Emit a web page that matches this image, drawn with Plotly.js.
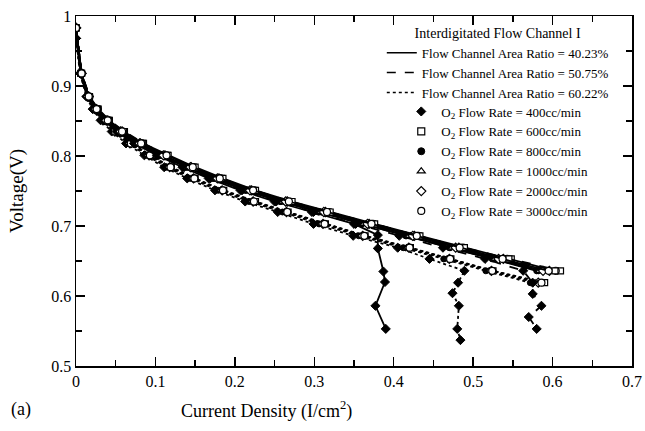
<!DOCTYPE html>
<html><head><meta charset="utf-8">
<script src="https://cdn.plot.ly/plotly-3.0.1.min.js"></script>
<style>html,body{margin:0;padding:0;background:#fff}#chart{width:645px;height:431px}</style>
</head><body><div id="chart"></div>
<script>
// ---- data ----
const ratioLabels = ['Flow Channel Area Ratio = 40.23%', 'Flow Channel Area Ratio = 50.75%', 'Flow Channel Area Ratio = 60.22%'];
const flowLabels = ['O<sub>2</sub> Flow Rate = 400cc/min', 'O<sub>2</sub> Flow Rate = 600cc/min', 'O<sub>2</sub> Flow Rate = 800cc/min',
                    'O<sub>2</sub> Flow Rate = 1000cc/min', 'O<sub>2</sub> Flow Rate = 2000cc/min', 'O<sub>2</sub> Flow Rate = 3000cc/min'];

const voltage = [0.983, 0.918, 0.885, 0.867, 0.851, 0.835, 0.818, 0.801, 0.784, 0.768, 0.751, 0.735, 0.720, 0.703, 0.686, 0.669, 0.653, 0.636];
const voltageLow = [0.983, 0.918, 0.885, 0.867, 0.851, 0.835, 0.818, 0.801, 0.784, 0.768, 0.751, 0.735, 0.720, 0.703, 0.686, 0.669, 0.653, 0.636, 0.619];

// Area ratio 40.23% (solid)
const a40_400_x = [0, 0.006, 0.014, 0.023, 0.035, 0.051, 0.073, 0.102, 0.134, 0.167, 0.207, 0.250, 0.297, 0.350, 0.380, 0.380, 0.387, 0.389, 0.377, 0.390];
const a40_400_y = [0.968, 0.918, 0.885, 0.867, 0.851, 0.835, 0.818, 0.801, 0.784, 0.768, 0.751, 0.735, 0.720, 0.703, 0.687, 0.668, 0.635, 0.620, 0.586, 0.553];
const a40_600_x = [0, 0.007, 0.016, 0.027, 0.041, 0.060, 0.084, 0.116, 0.150, 0.185, 0.226, 0.272, 0.320, 0.376, 0.433, 0.489, 0.545, 0.603];
const a40_800_x = [0, 0.006, 0.014, 0.024, 0.036, 0.053, 0.076, 0.106, 0.139, 0.172, 0.213, 0.257, 0.305, 0.359, 0.415, 0.470, 0.524, 0.580];
const a40_1000_x = [0, 0.007, 0.015, 0.024, 0.037, 0.054, 0.078, 0.108, 0.141, 0.175, 0.216, 0.260, 0.308, 0.362, 0.419, 0.473, 0.527, 0.583];
const a40_2000_x = [0, 0.007, 0.015, 0.025, 0.038, 0.056, 0.080, 0.110, 0.144, 0.178, 0.219, 0.264, 0.312, 0.367, 0.424, 0.478, 0.532, 0.588];
const a40_3000_x = [0, 0.007, 0.016, 0.026, 0.040, 0.058, 0.082, 0.114, 0.147, 0.181, 0.223, 0.268, 0.316, 0.372, 0.429, 0.483, 0.537, 0.595];

// Area ratio 50.75% (dashed)
const a50_400_x = [0, 0.006, 0.015, 0.024, 0.036, 0.053, 0.075, 0.104, 0.136, 0.169, 0.209, 0.252, 0.299, 0.352, 0.407, 0.462, 0.515, 0.563, 0.575, 0.575, 0.586, 0.570, 0.580];
const a50_400_y = [0.968, 0.918, 0.885, 0.867, 0.851, 0.835, 0.818, 0.801, 0.784, 0.768, 0.751, 0.735, 0.720, 0.703, 0.686, 0.669, 0.653, 0.636, 0.619, 0.603, 0.586, 0.570, 0.553];
const a50_600_x = [0, 0.007, 0.017, 0.028, 0.042, 0.061, 0.085, 0.115, 0.148, 0.183, 0.224, 0.270, 0.318, 0.373, 0.431, 0.488, 0.548, 0.610];
const a50_800_x = [0, 0.006, 0.015, 0.025, 0.038, 0.055, 0.078, 0.107, 0.140, 0.174, 0.214, 0.258, 0.306, 0.360, 0.416, 0.471, 0.526, 0.582];
const a50_1000_x = [0, 0.007, 0.016, 0.026, 0.039, 0.057, 0.080, 0.110, 0.143, 0.177, 0.218, 0.262, 0.310, 0.365, 0.421, 0.477, 0.532, 0.588];
const a50_2000_x = [0, 0.007, 0.016, 0.026, 0.040, 0.058, 0.081, 0.112, 0.145, 0.180, 0.221, 0.266, 0.314, 0.369, 0.426, 0.482, 0.538, 0.596];
const a50_3000_x = [0, 0.007, 0.017, 0.027, 0.041, 0.059, 0.083, 0.113, 0.147, 0.182, 0.224, 0.269, 0.318, 0.374, 0.431, 0.487, 0.543, 0.604];

// Area ratio 60.22% (dotted)
const a60_400_x = [0, 0.005, 0.013, 0.021, 0.031, 0.045, 0.063, 0.086, 0.111, 0.140, 0.175, 0.213, 0.254, 0.299, 0.349, 0.405, 0.445, 0.489, 0.481, 0.474, 0.482, 0.480, 0.484];
const a60_400_y = [0.968, 0.918, 0.885, 0.867, 0.851, 0.835, 0.818, 0.801, 0.784, 0.768, 0.751, 0.735, 0.720, 0.703, 0.686, 0.669, 0.653, 0.636, 0.619, 0.604, 0.586, 0.553, 0.537];
const a60_600_x = [0, 0.006, 0.016, 0.025, 0.036, 0.050, 0.070, 0.094, 0.120, 0.150, 0.186, 0.226, 0.267, 0.314, 0.364, 0.421, 0.472, 0.525, 0.590];
const a60_800_x = [0, 0.005, 0.014, 0.022, 0.033, 0.047, 0.066, 0.089, 0.114, 0.144, 0.179, 0.218, 0.260, 0.306, 0.356, 0.412, 0.463, 0.516, 0.572];
const a60_1000_x = [0, 0.006, 0.015, 0.023, 0.034, 0.048, 0.067, 0.091, 0.116, 0.146, 0.182, 0.221, 0.263, 0.309, 0.359, 0.416, 0.467, 0.520, 0.578];
const a60_2000_x = [0, 0.006, 0.015, 0.024, 0.034, 0.049, 0.068, 0.092, 0.118, 0.148, 0.184, 0.223, 0.265, 0.311, 0.361, 0.419, 0.470, 0.523, 0.582];
const a60_3000_x = [0, 0.006, 0.015, 0.024, 0.035, 0.049, 0.069, 0.093, 0.119, 0.149, 0.185, 0.224, 0.266, 0.313, 0.363, 0.420, 0.471, 0.524, 0.586];

// ---- styles ----
const dashes = ['solid', 'dash', 'dot'];
const markerStyles = [
  {symbol: 'diamond', color: '#000', line: {color: '#000', width: 1}, size: 7},
  {symbol: 'square', color: '#fff', line: {color: '#000', width: 1.2}, size: 6},
  {symbol: 'circle', color: '#000', line: {color: '#000', width: 1}, size: 6},
  {symbol: 'triangle-up', color: '#fff', line: {color: '#000', width: 1.2}, size: 6},
  {symbol: 'diamond', color: '#fff', line: {color: '#000', width: 1.2}, size: 7},
  {symbol: 'circle', color: '#fff', line: {color: '#000', width: 1.2}, size: 7}
];

const seriesData = [
  [[a40_400_x, a40_400_y], [a40_600_x, voltage], [a40_800_x, voltage], [a40_1000_x, voltage], [a40_2000_x, voltage], [a40_3000_x, voltage]],
  [[a50_400_x, a50_400_y], [a50_600_x, voltage], [a50_800_x, voltage], [a50_1000_x, voltage], [a50_2000_x, voltage], [a50_3000_x, voltage]],
  [[a60_400_x, a60_400_y], [a60_600_x, voltageLow], [a60_800_x, voltageLow], [a60_1000_x, voltageLow], [a60_2000_x, voltageLow], [a60_3000_x, voltageLow]]
];

// drawing order: filled markers below, open squares/circles on top
const drawOrder = [0, 2, 3, 4, 1, 5];
const traces = [];
for (let r = 2; r >= 0; r--) {
  for (const f of drawOrder) {
    const [xs, ys] = seriesData[r][f];
    traces.push({
      type: 'scatter', mode: 'lines+markers', x: xs, y: ys,
      line: {color: '#000', width: 1.8, dash: dashes[r]},
      marker: markerStyles[f],
      showlegend: false, hoverinfo: 'x+y'
    });
  }
}
// legend entries
ratioLabels.forEach((lab, r) => traces.push({
  type: 'scatter', mode: 'lines', x: [null], y: [null], name: lab,
  line: {color: '#000', width: 1.5, dash: dashes[r]}, legend: 'legend', showlegend: true
}));
flowLabels.forEach((lab, f) => traces.push({
  type: 'scatter', mode: 'markers', x: [null], y: [null], name: lab,
  marker: Object.assign({}, markerStyles[f], {size: 7}), legend: 'legend2', showlegend: true
}));

const font = 'Liberation Serif, Times New Roman, serif';
const axisCommon = {
  showline: true, linecolor: '#000', linewidth: 1.5, mirror: 'allticks',
  ticks: 'inside', ticklen: 9, tickwidth: 1.5, tickcolor: '#000',
  showgrid: false, zeroline: false,
  tickfont: {family: font, size: 16, color: '#000'},
  minor: {ticks: 'inside', ticklen: 6, tickwidth: 1.5, tickcolor: '#000', showgrid: false}
};

const layout = {
  width: 645, height: 431,
  margin: {l: 76, r: 13, t: 16, b: 65},
  paper_bgcolor: '#fff', plot_bgcolor: '#fff',
  font: {family: font, color: '#000'},
  xaxis: Object.assign({}, axisCommon, {range: [0, 0.7], tick0: 0, dtick: 0.1,
    minor: Object.assign({}, axisCommon.minor, {dtick: 0.05})}),
  yaxis: Object.assign({}, axisCommon, {range: [0.5, 1], tick0: 0.5, dtick: 0.1,
    minor: Object.assign({}, axisCommon.minor, {dtick: 0.05}),
    title: {text: 'Voltage(V)', font: {family: font, size: 19, color: '#000'}, standoff: 22}}),
  legend: {
    x: 0.55, y: 0.99, xanchor: 'left', yanchor: 'top',
    bgcolor: 'rgba(0,0,0,0)', borderwidth: 0,
    font: {family: font, size: 13, color: '#000'},
    title: {text: 'Interdigitated Flow Channel I', side: 'top center', font: {family: font, size: 14, color: '#000'}},
    tracegroupgap: 0
  },
  legend2: {
    x: 0.585, y: 0.77, xanchor: 'left', yanchor: 'top',
    bgcolor: 'rgba(0,0,0,0)', borderwidth: 0,
    font: {family: font, size: 13, color: '#000'},
    tracegroupgap: 0
  },
  annotations: [
    {text: 'Current Density (I/cm<sup>2</sup>)', xref: 'paper', yref: 'paper', x: 0.342, y: -0.125,
     xanchor: 'center', yanchor: 'middle', showarrow: false, font: {family: font, size: 18, color: '#000'}},
    {text: '(a)', xref: 'paper', yref: 'paper', x: -0.099, y: -0.125,
     xanchor: 'center', yanchor: 'middle', showarrow: false, font: {family: font, size: 18, color: '#000'}}
  ]
};

Plotly.newPlot('chart', traces, layout, {displayModeBar: false, staticPlot: true});
</script>
</body></html>
